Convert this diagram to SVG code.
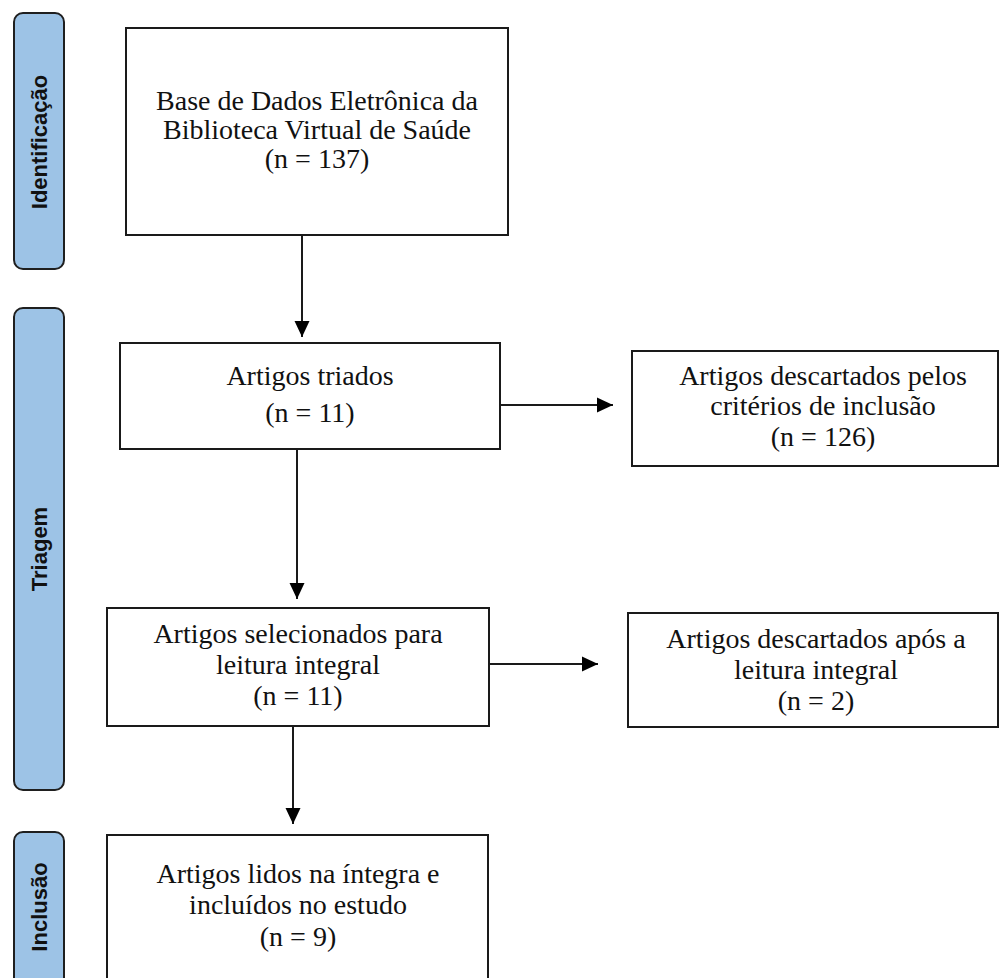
<svg xmlns="http://www.w3.org/2000/svg" width="1000" height="978" viewBox="0 0 1000 978">
<style>
.bg{fill:#ffffff}
.side{fill:#9DC3E6;stroke:#1f1f1f;stroke-width:2}
.sidet{font-family:"Liberation Sans",Arial,sans-serif;font-weight:bold;font-size:22px;fill:#111;text-anchor:middle}
.box{fill:#ffffff;stroke:#1a1a1a;stroke-width:2}
.t{font-family:"Liberation Serif","Times New Roman",serif;font-size:28px;fill:#111;text-anchor:middle}
.conn{stroke:#1a1a1a;stroke-width:2;fill:none}
</style>
<defs>
<marker id="ah" viewBox="0 0 10 10" refX="10" refY="5" markerWidth="8" markerHeight="8" markerUnits="userSpaceOnUse" orient="auto">
<path d="M0,0 L10,5 L0,10 z" fill="#000"/>
</marker>
<marker id="arr" viewBox="0 0 16 16" refX="16" refY="8" markerWidth="16" markerHeight="16" markerUnits="userSpaceOnUse" orient="auto">
<path d="M0,0.5 L16,8 L0,15.5 z" fill="#000"/>
</marker>
</defs>
<rect class="bg" x="0" y="0" width="1000" height="978"/>

<g id="stage-identificacao">
<rect class="side" x="14" y="13" width="50" height="256" rx="9"/>
<text class="sidet" transform="translate(47,142) rotate(-90)">Identificação</text>
</g>
<g id="stage-triagem">
<rect class="side" x="14" y="308" width="50" height="482" rx="9"/>
<text class="sidet" transform="translate(47,549) rotate(-90)">Triagem</text>
</g>
<g id="stage-inclusao">
<rect class="side" x="14" y="832" width="50" height="160" rx="9"/>
<text class="sidet" transform="translate(47,907) rotate(-90)">Inclusão</text>
</g>

<g id="connectors">
<line class="conn" x1="302" y1="235" x2="302" y2="337" marker-end="url(#arr)"/>
<line class="conn" x1="500" y1="405" x2="613" y2="405" marker-end="url(#arr)"/>
<line class="conn" x1="297" y1="449" x2="297" y2="599" marker-end="url(#arr)"/>
<line class="conn" x1="489" y1="664" x2="598" y2="664" marker-end="url(#arr)"/>
<line class="conn" x1="293" y1="726" x2="293" y2="824" marker-end="url(#arr)"/>
</g>

<g id="node-base">
<rect class="box" x="126" y="28" width="382" height="207"/>
<text class="t" x="317" y="110">Base de Dados Eletrônica da</text>
<text class="t" x="317" y="139">Biblioteca Virtual de Saúde</text>
<text class="t" x="317" y="168">(n = 137)</text>
</g>
<g id="node-triados">
<rect class="box" x="120" y="343" width="380" height="106"/>
<text class="t" x="310" y="385">Artigos triados</text>
<text class="t" x="310" y="422">(n = 11)</text>
</g>
<g id="node-descartados-inclusao">
<rect class="box" x="632" y="351" width="366" height="115"/>
<text class="t" x="823" y="385">Artigos descartados pelos</text>
<text class="t" x="823" y="415">critérios de inclusão</text>
<text class="t" x="823" y="446">(n = 126)</text>
</g>
<g id="node-selecionados">
<rect class="box" x="107" y="608" width="382" height="118"/>
<text class="t" x="298" y="643">Artigos selecionados para</text>
<text class="t" x="298" y="674">leitura integral</text>
<text class="t" x="298" y="705">(n = 11)</text>
</g>
<g id="node-descartados-leitura">
<rect class="box" x="628" y="613" width="370" height="114"/>
<text class="t" x="816" y="648">Artigos descartados após a</text>
<text class="t" x="816" y="679">leitura integral</text>
<text class="t" x="816" y="710">(n = 2)</text>
</g>
<g id="node-incluidos">
<rect class="box" x="107" y="835" width="381" height="160"/>
<text class="t" x="298" y="883">Artigos lidos na íntegra e</text>
<text class="t" x="298" y="914">incluídos no estudo</text>
<text class="t" x="298" y="946">(n = 9)</text>
</g>
</svg>
